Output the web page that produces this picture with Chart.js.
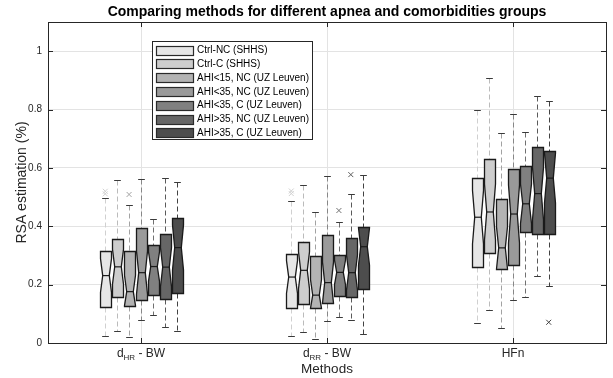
<!DOCTYPE html>
<html>
<head>
<meta charset="utf-8">
<script src="https://cdn.jsdelivr.net/npm/chart.js@4.4.1/dist/chart.umd.min.js"></script>
<style>
  html, body { margin: 0; padding: 0; background: #fff; }
  #wrap { width: 613px; height: 378px; }
</style>
</head>
<body>
<div id="wrap"><canvas id="chart" width="613" height="378"></canvas></div>
<script>
// x categories (main part, subscript, rest)
const methods = [['d', 'HR', ' - BW'], ['d', 'RR', ' - BW'], ['HFn', '', '']];
const seriesNames = [
  'Ctrl-NC (SHHS)', 'Ctrl-C (SHHS)', 'AHI<15, NC (UZ Leuven)', 'AHI<35, NC (UZ Leuven)',
  'AHI<35, C (UZ Leuven)', 'AHI>35, NC (UZ Leuven)', 'AHI>35, C (UZ Leuven)'
];
const yTicks = [0, 0.2, 0.4, 0.6, 0.8, 1];

// box statistics, one row per series, one value per method
const whiskerLow = [
  [0.025, 0.024, 0.070], [0.042, 0.037, 0.113], [0.021, 0.014, 0.051], [0.080, 0.075, 0.146],
  [0.096, 0.089, 0.157], [0.054, 0.078, 0.229], [0.041, 0.031, 0.195]
];
const q1 = [
  [0.122, 0.119, 0.262], [0.157, 0.133, 0.310], [0.128, 0.119, 0.252], [0.147, 0.136, 0.266],
  [0.166, 0.161, 0.382], [0.151, 0.158, 0.374], [0.170, 0.184, 0.373]
];
const medians = [
  [0.231, 0.226, 0.431], [0.261, 0.249, 0.449], [0.176, 0.164, 0.326], [0.241, 0.207, 0.442],
  [0.262, 0.242, 0.477], [0.260, 0.241, 0.512], [0.327, 0.330, 0.565]
];
const q3 = [
  [0.315, 0.306, 0.567], [0.356, 0.345, 0.629], [0.315, 0.298, 0.493], [0.393, 0.370, 0.597],
  [0.335, 0.302, 0.608], [0.374, 0.359, 0.672], [0.427, 0.397, 0.658]
];
const whiskerHigh = [
  [0.498, 0.486, 0.797], [0.557, 0.541, 0.909], [0.472, 0.449, 0.718], [0.562, 0.573, 0.786],
  [0.425, 0.413, 0.723], [0.567, 0.509, 0.847], [0.552, 0.576, 0.829]
];
// outliers: [series, method, value]
const outliers = [
  [0, 0, 0.520], [0, 0, 0.511], [2, 0, 0.509],
  [0, 1, 0.521], [0, 1, 0.512], [4, 1, 0.454], [5, 1, 0.577],
  [6, 2, 0.071]
];

const fillColors = ['#e6e6e6', '#cdcdcd', '#b3b3b3', '#9a9a9a', '#808080', '#666666', '#4d4d4d'];
const whiskerColors = ['#d0d0d0', '#bbbbbb', '#a2a2a2', '#878787', '#707070', '#5a5a5a', '#424242'];
const boxStep = 0.064;     // spacing between boxes of one group (x units)
const boxWidth = 0.057;
const capWidth = 0.036;
const notchFactor = 0.3;   // notch half height as part of IQR
const axisColor = '#262626';
const gridColor = '#e3e3e3';
const FONT = '"Liberation Sans", Arial, sans-serif';

const offsetOf = (s) => (s - 3) * boxStep;
const px = (v) => Math.round(v) + 0.5;

function line(ctx, x1, y1, x2, y2) {
  ctx.beginPath();
  ctx.moveTo(x1, y1);
  ctx.lineTo(x2, y2);
  ctx.stroke();
}

const boxPlugin = {
  id: 'notchedBoxes',
  beforeDatasetsDraw(chart) {
    const { ctx, scales: { x, y } } = chart;
    const hw = x.getPixelForValue(1 + boxWidth / 2) - x.getPixelForValue(1);
    const cw = x.getPixelForValue(1 + capWidth / 2) - x.getPixelForValue(1);
    ctx.save();
    seriesNames.forEach((_, s) => {
      methods.forEach((_, g) => {
        const cx = px(x.getPixelForValue(g + 1 + offsetOf(s)));
        const yLo = px(y.getPixelForValue(whiskerLow[s][g]));
        const yHi = px(y.getPixelForValue(whiskerHigh[s][g]));
        const yQ1 = px(y.getPixelForValue(q1[s][g]));
        const yQ3 = px(y.getPixelForValue(q3[s][g]));
        const yMed = y.getPixelForValue(medians[s][g]);
        const half = notchFactor * (q3[s][g] - q1[s][g]);
        const yNHi = y.getPixelForValue(Math.min(q3[s][g], medians[s][g] + half));
        const yNLo = y.getPixelForValue(Math.max(q1[s][g], medians[s][g] - half));

        // whiskers
        ctx.lineWidth = 1;
        ctx.strokeStyle = whiskerColors[s];
        ctx.setLineDash([5, 3]);
        line(ctx, cx, yHi, cx, yQ3);
        line(ctx, cx, yQ1, cx, yLo);
        ctx.setLineDash([]);
        ctx.strokeStyle = '#3a3a3a';
        line(ctx, cx - cw, yHi, cx + cw, yHi);
        line(ctx, cx - cw, yLo, cx + cw, yLo);

        // notched box
        const l = Math.round(cx - hw) + 0.5, r = Math.round(cx + hw) + 0.5;
        const inset = (r - l) * 0.2;
        ctx.beginPath();
        ctx.moveTo(l, yQ1);
        ctx.lineTo(l, yNLo);
        ctx.lineTo(l + inset, yMed);
        ctx.lineTo(l, yNHi);
        ctx.lineTo(l, yQ3);
        ctx.lineTo(r, yQ3);
        ctx.lineTo(r, yNHi);
        ctx.lineTo(r - inset, yMed);
        ctx.lineTo(r, yNLo);
        ctx.lineTo(r, yQ1);
        ctx.closePath();
        ctx.fillStyle = fillColors[s];
        ctx.fill();
        ctx.lineWidth = 1.3;
        ctx.strokeStyle = '#1a1a1a';
        ctx.stroke();
        ctx.lineWidth = 1.2;
        line(ctx, l + inset, yMed, r - inset, yMed);
      });
    });
    ctx.restore();
  },
  afterDraw(chart) {
    const { ctx, chartArea: a, scales: { x, y } } = chart;
    ctx.save();

    // frame on all four sides with inward ticks
    ctx.strokeStyle = axisColor;
    ctx.lineWidth = 1;
    ctx.strokeRect(px(a.left), px(a.top), Math.round(a.right - a.left), Math.round(a.bottom - a.top));
    [1, 2, 3].forEach(v => {
      const xp = px(x.getPixelForValue(v));
      line(ctx, xp, a.top, xp, a.top + 5);
      line(ctx, xp, a.bottom, xp, a.bottom - 5);
    });
    yTicks.forEach(v => {
      const yp = px(y.getPixelForValue(v));
      line(ctx, a.left, yp, a.left + 5, yp);
      line(ctx, a.right, yp, a.right - 5, yp);
    });

    // title
    ctx.fillStyle = '#000';
    ctx.textAlign = 'center';
    ctx.textBaseline = 'alphabetic';
    ctx.font = 'bold 14px ' + FONT;
    ctx.fillText('Comparing methods for different apnea and comorbidities groups', (a.left + a.right) / 2, 16);

    // category labels with subscripts
    ctx.fillStyle = axisColor;
    methods.forEach(([main, sub, rest], g) => {
      ctx.font = '12px ' + FONT;
      const wMain = ctx.measureText(main).width;
      const wRest = ctx.measureText(rest).width;
      ctx.font = '8px ' + FONT;
      const wSub = ctx.measureText(sub).width;
      let xp = x.getPixelForValue(g + 1) - (wMain + wSub + wRest) / 2;
      ctx.textAlign = 'left';
      ctx.font = '12px ' + FONT;
      ctx.fillText(main, xp, 357);
      xp += wMain;
      ctx.font = '8px ' + FONT;
      ctx.fillText(sub, xp, 360);
      xp += wSub;
      ctx.font = '12px ' + FONT;
      ctx.fillText(rest, xp, 357);
    });

    // axis titles
    ctx.textAlign = 'center';
    ctx.font = '13.5px ' + FONT;
    ctx.fillText('Methods', (a.left + a.right) / 2, 373);
    ctx.save();
    ctx.translate(26, (a.top + a.bottom) / 2);
    ctx.rotate(-Math.PI / 2);
    ctx.font = '14px ' + FONT;
    ctx.fillText('RSA estimation (%)', 0, 0);
    ctx.restore();

    // legend
    const lx = 152.5, ly = 41.5, lw = 160, lh = 98;
    ctx.fillStyle = '#fff';
    ctx.fillRect(lx, ly, lw, lh);
    ctx.strokeStyle = axisColor;
    ctx.strokeRect(lx, ly, lw, lh);
    ctx.font = '10px ' + FONT;
    ctx.textAlign = 'left';
    ctx.textBaseline = 'middle';
    seriesNames.forEach((name, s) => {
      const cy = 50 + s * 13.8;
      ctx.fillStyle = fillColors[s];
      ctx.fillRect(156.5, Math.round(cy - 4.5) + 0.5, 37, 9);
      ctx.strokeStyle = '#2a2a2a';
      ctx.lineWidth = 1.2;
      ctx.strokeRect(156.5, Math.round(cy - 4.5) + 0.5, 37, 9);
      ctx.fillStyle = '#000';
      ctx.fillText(name, 197, cy + 0.5);
    });
    ctx.restore();
  }
};

const outlierSets = seriesNames.map((name, s) => ({
  label: name,
  data: outliers.filter(o => o[0] === s).map(o => ({ x: o[1] + 1 + offsetOf(s), y: o[2] })),
  pointStyle: 'crossRot',
  pointRadius: 3.5,
  borderWidth: 1,
  borderColor: whiskerColors[s],
  backgroundColor: whiskerColors[s]
}));

new Chart(document.getElementById('chart').getContext('2d'), {
  type: 'scatter',
  data: { datasets: outlierSets },
  options: {
    responsive: false,
    animation: false,
    layout: { padding: { top: 22, right: 7, left: 0, bottom: 0 } },
    plugins: { legend: { display: false }, tooltip: { enabled: false }, title: { display: false } },
    scales: {
      x: {
        type: 'linear',
        min: 0.5,
        max: 3.5,
        afterBuildTicks: (axis) => { axis.ticks = [1, 2, 3].map(v => ({ value: v })); },
        afterFit: (axis) => { axis.height = 35; },
        ticks: { display: false },
        grid: { color: gridColor, drawTicks: false },
        border: { display: false }
      },
      y: {
        min: 0,
        max: 1.1,
        afterBuildTicks: (axis) => { axis.ticks = yTicks.map(v => ({ value: v })); },
        afterFit: (axis) => { axis.width = 48; },
        ticks: {
          padding: 6,
          color: axisColor,
          font: { family: FONT, size: 10 },
          callback: (v) => String(Math.round(v * 10) / 10)
        },
        grid: { color: gridColor, drawTicks: false },
        border: { display: false }
      }
    }
  },
  plugins: [boxPlugin]
});
</script>
</body>
</html>
